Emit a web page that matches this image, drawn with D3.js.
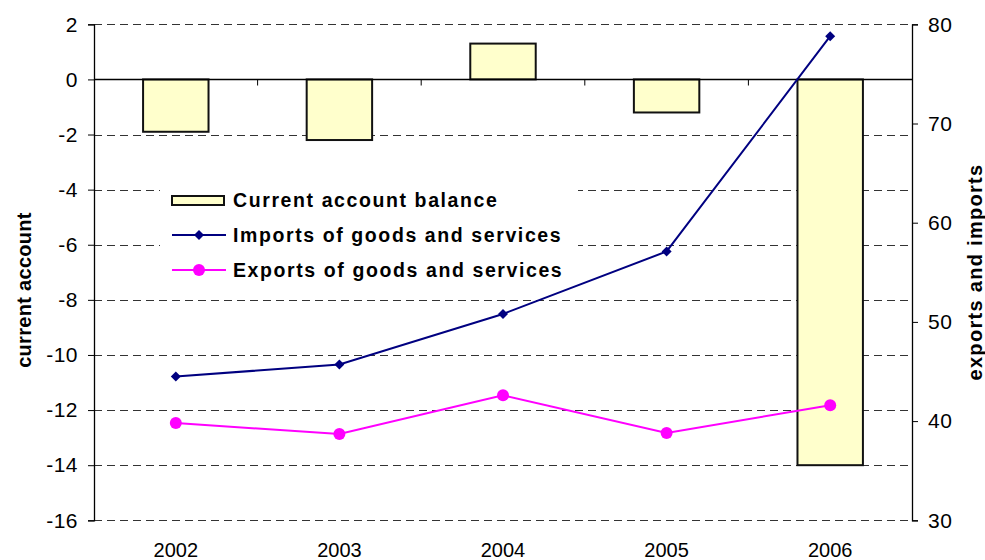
<!DOCTYPE html>
<html>
<head>
<meta charset="utf-8">
<script src="https://cdn.jsdelivr.net/npm/d3@7"></script>
<style>
  body { margin: 0; background: #fff; }
  text { font-family: "Liberation Sans", Arial, sans-serif; }
</style>
</head>
<body>
<script>
// data
var years = ['2002', '2003', '2004', '2005', '2006']
var balance = [-1.9, -2.2, 1.3, -1.2, -14.0]
var importsGS = [44.5, 45.7, 50.8, 57.1, 78.8]
var exportsGS = [39.8, 38.7, 42.6, 38.8, 41.6]
var leftTicks = [2, 0, -2, -4, -6, -8, -10, -12, -14, -16]
var rightTicks = [80, 70, 60, 50, 40, 30]

var W = 985, H = 560
var pLeft = 94, pRight = 912, pTop = 24.3, pBottom = 520.3

var svg = d3.select('body').append('svg')
  .attr('width', W)
  .attr('height', H)

var x = d3.scaleBand()
  .domain(years)
  .range([pLeft, pRight])
  .padding(0)
var yL = d3.scaleLinear().domain([-16, 2]).range([pBottom, pTop])
var yR = d3.scaleLinear().domain([30, 80]).range([pBottom, pTop])

// plain hyphen for negatives, like the original
var plain = function (d) { return String(d) }

// gridlines (dashed), skip zero which is the category axis
svg.append('g').selectAll('line')
  .data(leftTicks.filter(function (d) { return d !== 0 }))
  .enter().append('line')
    .attr('x1', pLeft).attr('x2', pRight)
    .attr('y1', function (d) { return Math.round(yL(d)) + 0.5 })
    .attr('y2', function (d) { return Math.round(yL(d)) + 0.5 })
    .attr('stroke', '#333')
    .attr('stroke-dasharray', '8,5')

// legend background hides gridlines behind it
svg.append('rect')
  .attr('x', 160).attr('y', 178)
  .attr('width', 418).attr('height', 106)
  .attr('fill', '#fff')

// bars
var bw = x.bandwidth() * 0.4
svg.append('g').selectAll('rect')
  .data(balance)
  .enter().append('rect')
    .attr('x', function (d, i) { return x(years[i]) + (x.bandwidth() - bw) / 2 })
    .attr('y', function (d) { return yL(Math.max(0, d)) })
    .attr('width', bw)
    .attr('height', function (d) { return Math.abs(yL(d) - yL(0)) })
    .attr('fill', '#ffffcc')
    .attr('stroke', '#111')
    .attr('stroke-width', 2)

// left axis
var axL = svg.append('g')
  .attr('transform', 'translate(' + pLeft + ',0)')
  .call(d3.axisLeft(yL).tickValues(leftTicks).tickFormat(plain).tickSize(6).tickPadding(10))
axL.select('.domain').attr('stroke', '#000').attr('stroke-width', 1.3)
axL.selectAll('.tick line').attr('stroke', '#000')
axL.selectAll('text')
  .attr('font-size', '21px')
  .attr('fill', '#000')
  .attr('letter-spacing', '0.5px')

// right axis
var axR = svg.append('g')
  .attr('transform', 'translate(' + pRight + ',0)')
  .call(d3.axisRight(yR).tickValues(rightTicks).tickFormat(plain).tickSize(6).tickPadding(10))
axR.select('.domain').attr('stroke', '#000').attr('stroke-width', 1.3)
axR.selectAll('.tick line').attr('stroke', '#000')
axR.selectAll('text')
  .attr('font-size', '21px')
  .attr('fill', '#000')
  .attr('letter-spacing', '0.5px')

// zero line as category axis, with ticks between categories
var y0 = Math.round(yL(0)) + 0.5
svg.append('line')
  .attr('x1', pLeft).attr('x2', pRight)
  .attr('y1', y0).attr('y2', y0)
  .attr('stroke', '#000').attr('stroke-width', 1.3)
svg.append('g').selectAll('line')
  .data(years.slice(1))
  .enter().append('line')
    .attr('x1', function (d) { return x(d) }).attr('x2', function (d) { return x(d) })
    .attr('y1', y0).attr('y2', y0 + 6)
    .attr('stroke', '#000')

// year labels at the bottom
svg.append('g').selectAll('text')
  .data(years)
  .enter().append('text')
    .attr('x', function (d) { return x(d) + x.bandwidth() / 2 })
    .attr('y', 557)
    .attr('text-anchor', 'middle')
    .attr('font-size', '20px')
    .text(function (d) { return d })

// lines
var line = d3.line()
  .x(function (d, i) { return x(years[i]) + x.bandwidth() / 2 })
  .y(function (d) { return yR(d) })

svg.append('path')
  .datum(importsGS)
  .attr('d', line)
  .attr('fill', 'none')
  .attr('stroke', '#000080')
  .attr('stroke-width', 2)

svg.append('path')
  .datum(exportsGS)
  .attr('d', line)
  .attr('fill', 'none')
  .attr('stroke', '#ff00ff')
  .attr('stroke-width', 2)

var diamond = d3.symbol().type(d3.symbolSquare).size(50)
svg.append('g').selectAll('path')
  .data(importsGS)
  .enter().append('path')
    .attr('d', diamond)
    .attr('transform', function (d, i) {
      return 'translate(' + (x(years[i]) + x.bandwidth() / 2) + ',' + yR(d) + ') rotate(45)'
    })
    .attr('fill', '#000080')

svg.append('g').selectAll('circle')
  .data(exportsGS)
  .enter().append('circle')
    .attr('cx', function (d, i) { return x(years[i]) + x.bandwidth() / 2 })
    .attr('cy', function (d) { return yR(d) })
    .attr('r', 6)
    .attr('fill', '#ff00ff')

// axis titles
svg.append('text')
  .attr('transform', 'translate(31,290) rotate(-90)')
  .attr('text-anchor', 'middle')
  .attr('font-size', '20px')
  .attr('font-weight', 'bold')
  .attr('letter-spacing', '0.3px')
  .text('current account')

svg.append('text')
  .attr('transform', 'translate(982,272) rotate(-90)')
  .attr('text-anchor', 'middle')
  .attr('font-size', '20px')
  .attr('font-weight', 'bold')
  .attr('letter-spacing', '1.3px')
  .text('exports and imports')

// legend
var legendNames = ['Current account balance', 'Imports of goods and services', 'Exports of goods and services']
var lg = svg.append('g')
lg.append('rect')
  .attr('x', 172).attr('y', 196).attr('width', 52).attr('height', 9)
  .attr('fill', '#ffffcc').attr('stroke', '#111').attr('stroke-width', 2)
lg.append('line')
  .attr('x1', 172).attr('x2', 226).attr('y1', 235).attr('y2', 235)
  .attr('stroke', '#000080').attr('stroke-width', 2)
lg.append('path')
  .attr('d', diamond)
  .attr('transform', 'translate(199,235) rotate(45)')
  .attr('fill', '#000080')
lg.append('line')
  .attr('x1', 172).attr('x2', 226).attr('y1', 270).attr('y2', 270)
  .attr('stroke', '#ff00ff').attr('stroke-width', 2)
lg.append('circle')
  .attr('cx', 199).attr('cy', 270).attr('r', 6)
  .attr('fill', '#ff00ff')
lg.selectAll('text')
  .data(legendNames)
  .enter().append('text')
    .attr('x', 233)
    .attr('y', function (d, i) { return 207 + i * 35 })
    .attr('font-size', '19.5px')
    .attr('font-weight', 'bold')
    .attr('letter-spacing', '1.6px')
    .text(function (d) { return d })
</script>
</body>
</html>
